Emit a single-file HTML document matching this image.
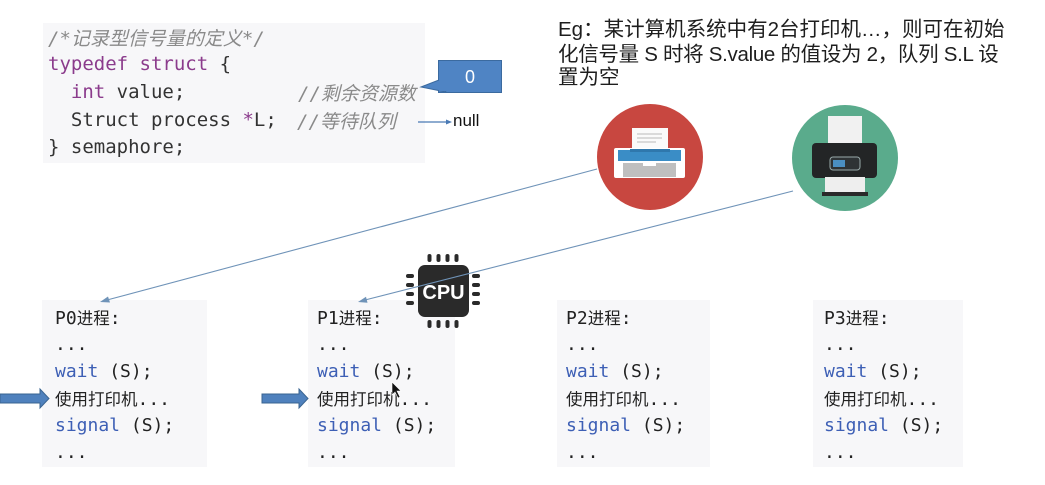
<!DOCTYPE html>
<html><head><meta charset="utf-8">
<style>
html,body{margin:0;padding:0;background:#fff;}
body{width:1045px;height:485px;position:relative;overflow:hidden;font-family:"Liberation Sans","Noto Sans CJK SC",sans-serif;}
.abs{position:absolute;white-space:pre;}
.code{font-family:"DejaVu Sans Mono","Liberation Mono","Noto Sans CJK SC",monospace;font-size:19px;line-height:27px;color:#333;}
.cjk19{font-family:"Noto Sans CJK SC",sans-serif;font-size:19px;}
.kw{color:#8b3b8c;}
.cm{color:#8a8a8a;font-style:italic;}
.box{position:absolute;background:#f7f7f9;}
.pl{position:absolute;white-space:pre;font-family:"DejaVu Sans Mono","Liberation Mono","Noto Sans CJK SC",monospace;font-size:18px;line-height:27px;color:#222;}
.cjk{font-family:"Noto Sans CJK SC",sans-serif;font-size:16.5px;}
.bl{color:#3d5fb5;}
.eg{position:absolute;left:558px;white-space:nowrap;font-size:20.5px;line-height:24px;color:#1e1e1e;font-family:"Liberation Sans","Noto Sans CJK SC",sans-serif;}
</style></head>
<body>

<!-- code box -->
<div class="box" style="left:43px;top:23px;width:382px;height:140px;"></div>
<div class="abs code cm" style="left:48px;top:24px;">/*<span class="cjk19">记录型信号量的定义</span>*/</div>
<div class="abs code" style="left:48px;top:51px;"><span class="kw">typedef struct</span> {</div>
<div class="abs code" style="left:48px;top:79px;">  <span class="kw">int</span> value;</div>
<div class="abs code cm" style="left:298px;top:79px;">//<span class="cjk19">剩余资源数</span></div>
<div class="abs code" style="left:48px;top:107px;">  Struct process <span class="kw">*</span>L;</div>
<div class="abs code cm" style="left:297px;top:107px;">//<span class="cjk19">等待队列</span></div>
<div class="abs code" style="left:48px;top:134px;">} semaphore;</div>

<!-- value box -->
<div style="position:absolute;left:438px;top:60px;width:62px;height:31px;background:#4f84c4;border:1px solid #3b6a9f;color:#fff;font-size:18px;line-height:31px;text-align:center;">0</div>
<div class="abs" style="left:453px;top:110px;font-size:17px;line-height:22px;color:#111;">null</div>

<!-- Eg text -->
<div class="eg" style="top:18px;">Eg：某计算机系统中有2台打印机…，则可在初始</div>
<div class="eg" style="top:43px;letter-spacing:-0.3px;">化信号量 S 时将 S.value 的值设为 2，队列 S.L 设</div>
<div class="eg" style="top:66px;">置为空</div>

<!-- process boxes -->
<div class="box" style="left:42px;top:300px;width:165px;height:167px;"></div>
<div class="box" style="left:308px;top:300px;width:147px;height:167px;"></div>
<div class="box" style="left:557px;top:300px;width:153px;height:167px;"></div>
<div class="box" style="left:813px;top:300px;width:150px;height:167px;"></div>

<!-- P0 -->
<div class="pl" style="left:55px;top:304px;">P0<span class="cjk">进程</span>:</div>
<div class="pl" style="left:55px;top:331px;">...</div>
<div class="pl" style="left:55px;top:358px;"><span class="bl">wait</span> (S);</div>
<div class="pl" style="left:55px;top:385px;"><span class="cjk">使用打印机</span>...</div>
<div class="pl" style="left:55px;top:412px;"><span class="bl">signal</span> (S);</div>
<div class="pl" style="left:55px;top:439px;">...</div>
<!-- P1 -->
<div class="pl" style="left:317px;top:304px;">P1<span class="cjk">进程</span>:</div>
<div class="pl" style="left:317px;top:331px;">...</div>
<div class="pl" style="left:317px;top:358px;"><span class="bl">wait</span> (S);</div>
<div class="pl" style="left:317px;top:385px;"><span class="cjk">使用打印机</span>...</div>
<div class="pl" style="left:317px;top:412px;"><span class="bl">signal</span> (S);</div>
<div class="pl" style="left:317px;top:439px;">...</div>
<!-- P2 -->
<div class="pl" style="left:566px;top:304px;">P2<span class="cjk">进程</span>:</div>
<div class="pl" style="left:566px;top:331px;">...</div>
<div class="pl" style="left:566px;top:358px;"><span class="bl">wait</span> (S);</div>
<div class="pl" style="left:566px;top:385px;"><span class="cjk">使用打印机</span>...</div>
<div class="pl" style="left:566px;top:412px;"><span class="bl">signal</span> (S);</div>
<div class="pl" style="left:566px;top:439px;">...</div>
<!-- P3 -->
<div class="pl" style="left:824px;top:304px;">P3<span class="cjk">进程</span>:</div>
<div class="pl" style="left:824px;top:331px;">...</div>
<div class="pl" style="left:824px;top:358px;"><span class="bl">wait</span> (S);</div>
<div class="pl" style="left:824px;top:385px;"><span class="cjk">使用打印机</span>...</div>
<div class="pl" style="left:824px;top:412px;"><span class="bl">signal</span> (S);</div>
<div class="pl" style="left:824px;top:439px;">...</div>

<svg width="1045" height="485" style="position:absolute;left:0;top:0;" xmlns="http://www.w3.org/2000/svg">
  <!-- callout tail -->
  <polygon points="439,80 421,87 446,92" fill="#4f84c4" stroke="#3b6a9f" stroke-width="1"/>
  <rect x="439" y="61" width="61" height="30" fill="#4f84c4"/>
  <text x="470" y="83" font-family="Liberation Sans, sans-serif" font-size="18" fill="#fff" text-anchor="middle">0</text>
  <!-- null arrow -->
  <line x1="418" y1="122" x2="447" y2="122" stroke="#4a7ab5" stroke-width="1.2"/>
  <polygon points="452,122 446,119.5 446,124.5" fill="#4a7ab5"/>

  <!-- red printer -->
  <circle cx="650" cy="157" r="53" fill="#c84740"/>
  <rect x="632" y="128" width="36" height="24" fill="#fafafa"/>
  <line x1="637" y1="134" x2="662" y2="134" stroke="#bbb" stroke-width="1"/>
  <line x1="637" y1="138" x2="662" y2="138" stroke="#bbb" stroke-width="1"/>
  <line x1="637" y1="142" x2="656" y2="142" stroke="#bbb" stroke-width="1"/>
  <rect x="614" y="148" width="71" height="30" rx="2" fill="#fff"/>
  <rect x="618" y="150" width="63" height="11" fill="#3a8dc6"/>
  <rect x="630" y="149" width="40" height="3" fill="#2f78ad"/>
  <rect x="623" y="163" width="53" height="14" fill="#bfbfbf"/>
  <rect x="643" y="163" width="13" height="3" fill="#fff"/>

  <!-- green printer -->
  <circle cx="845" cy="158" r="53" fill="#5aab8c"/>
  <rect x="828" y="116" width="34" height="30" fill="#f1f1f1"/>
  <rect x="812" y="143" width="65" height="35" rx="4" fill="#232526"/>
  <rect x="830" y="157" width="30" height="13" rx="3" fill="#2e3335" stroke="#9aa" stroke-width="1"/>
  <rect x="833" y="160" width="12" height="7" fill="#4a8fc2"/>
  <rect x="825" y="177" width="40" height="17" fill="#eeeeee"/>
  <rect x="822" y="192" width="46" height="4" fill="#2a2a2a"/>

  <!-- CPU chip -->
  <rect x="418" y="265" width="51" height="52" rx="7" fill="#2a2a2a"/>
  <g fill="#2a2a2a">
    <rect x="427.5" y="254" width="4" height="8" rx="2"/>
    <rect x="436.5" y="254" width="4" height="8" rx="2"/>
    <rect x="445.5" y="254" width="4" height="8" rx="2"/>
    <rect x="454.5" y="254" width="4" height="8" rx="2"/>
    <rect x="427.5" y="320" width="4" height="8" rx="2"/>
    <rect x="436.5" y="320" width="4" height="8" rx="2"/>
    <rect x="445.5" y="320" width="4" height="8" rx="2"/>
    <rect x="454.5" y="320" width="4" height="8" rx="2"/>
    <rect x="406" y="274" width="8" height="4" rx="2"/>
    <rect x="406" y="283" width="8" height="4" rx="2"/>
    <rect x="406" y="292" width="8" height="4" rx="2"/>
    <rect x="406" y="301" width="8" height="4" rx="2"/>
    <rect x="472" y="274" width="8" height="4" rx="2"/>
    <rect x="472" y="283" width="8" height="4" rx="2"/>
    <rect x="472" y="292" width="8" height="4" rx="2"/>
    <rect x="472" y="301" width="8" height="4" rx="2"/>
  </g>
  <text x="443.5" y="299" font-family="Liberation Sans, sans-serif" font-weight="bold" font-size="20" fill="#fff" text-anchor="middle">CPU</text>

  <!-- connector lines -->
  <line x1="597" y1="169" x2="107" y2="300" stroke="#6f93b8" stroke-width="1.1"/>
  <polygon points="100,302 108,296.5 110,302.5" fill="#6f93b8"/>
  <line x1="793" y1="191" x2="365" y2="300" stroke="#6f93b8" stroke-width="1.1"/>
  <polygon points="358,302 366,296.8 367.5,302.8" fill="#6f93b8"/>

  <!-- block arrows -->
  <polygon points="0,394 40,394 40,389 49,398.5 40,408 40,403 0,403" fill="#4f81bd" stroke="#3a6491" stroke-width="1"/>
  <polygon points="262,394 299,394 299,389 308,398.5 299,408 299,403 262,403" fill="#4f81bd" stroke="#3a6491" stroke-width="1"/>

  <!-- cursor -->
  <polygon points="392,382 392,395 395,392 398,398 400,397 397,391 401,391" fill="#111" stroke="#fff" stroke-width="0.6"/>
</svg>
</body></html>
